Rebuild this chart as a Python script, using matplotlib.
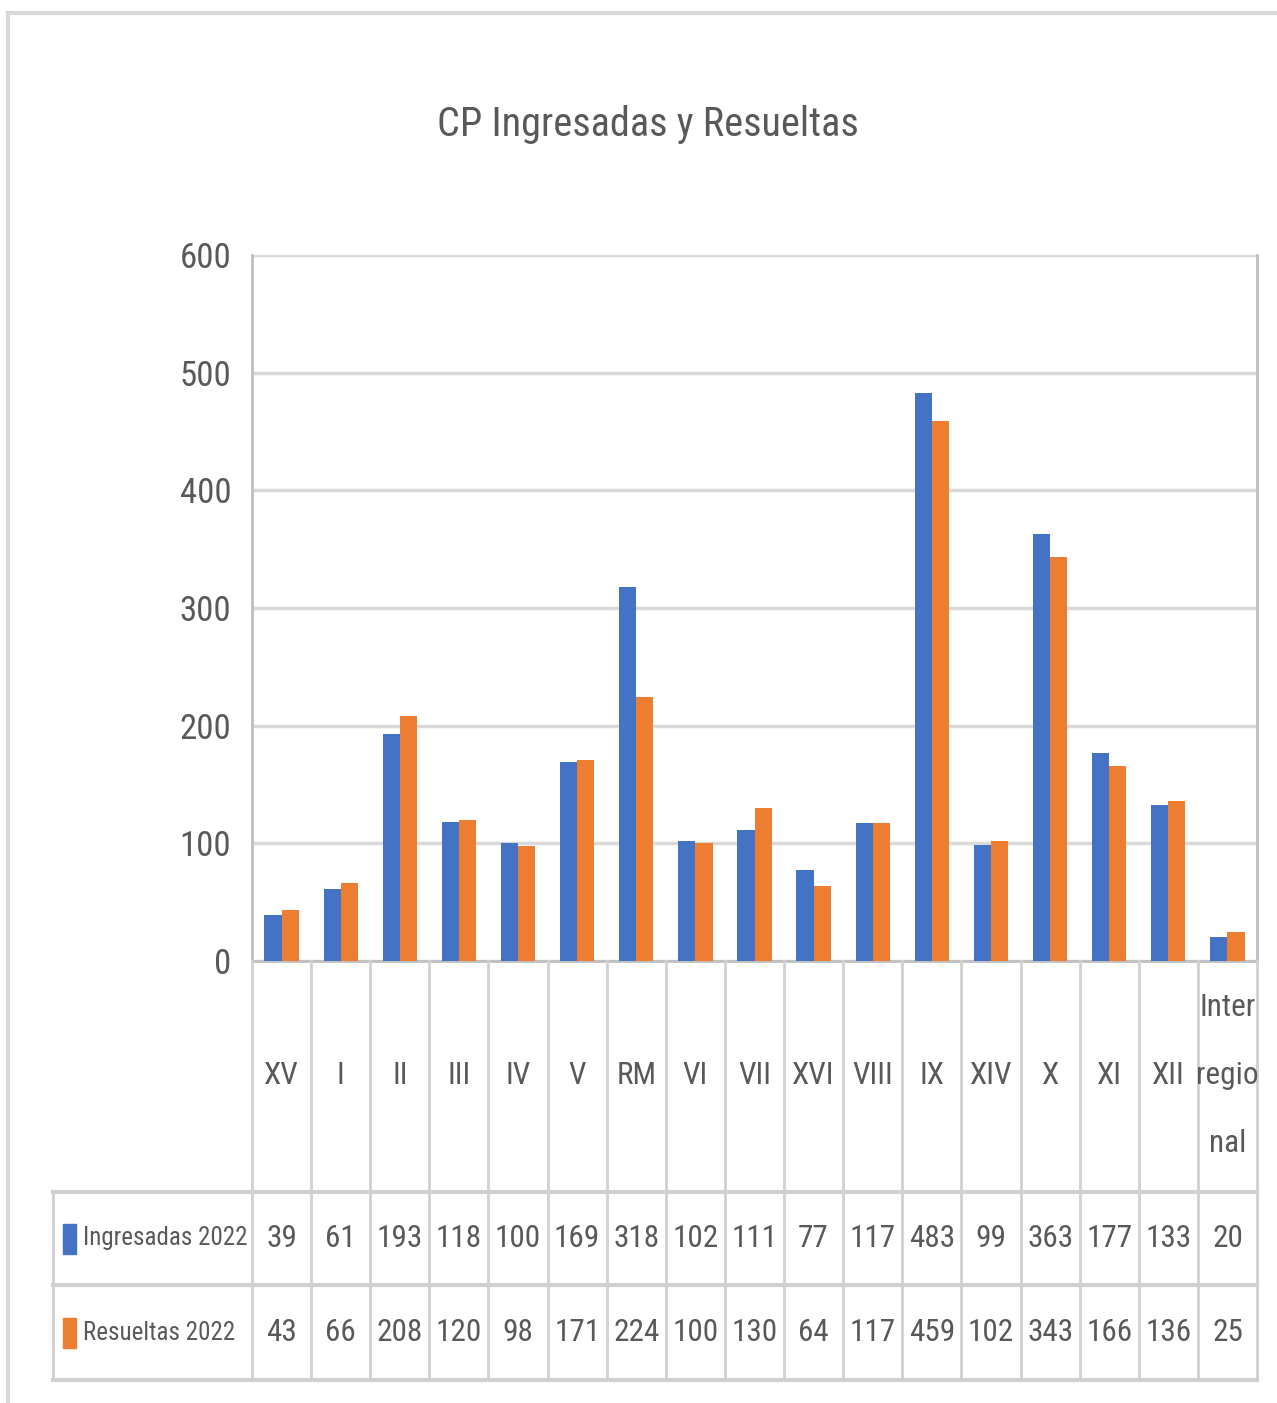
import matplotlib
matplotlib.use("Agg")
import matplotlib.pyplot as plt
import numpy as np

plt.rcParams['font.family'] = ['Roboto Condensed', 'Liberation Sans Narrow', 'Roboto', 'DejaVu Sans']

# datos
regiones = ["XV", "I", "II", "III", "IV", "V", "RM", "VI", "VII", "XVI",
            "VIII", "IX", "XIV", "X", "XI", "XII", "Inter\nregio\nnal"]
ingresadas = [39, 61, 193, 118, 100, 169, 318, 102, 111, 77, 117, 483, 99, 363, 177, 133, 20]
resueltas = [43, 66, 208, 120, 98, 171, 224, 100, 130, 64, 117, 459, 102, 343, 166, 136, 25]
series = ["Ingresadas 2022", "Resueltas 2022"]
colores = ["#4472C4", "#ED7D31"]

W, H = 1277, 1403
texto = "#595959"
linea = "#D9D9D9"

fig = plt.figure(figsize=(W / 100, H / 100), dpi=100)

def caja(x0, y0, x1, y1):
    # pixeles -> fraccion de figura
    return [x0 / W, 1 - y1 / H, (x1 - x0) / W, (y1 - y0) / H]

# borde exterior del grafico
fig.add_artist(plt.Line2D([8 / W, 8 / W], [0, 1 - 13 / H], color=linea, lw=3))
fig.add_artist(plt.Line2D([8 / W, 1], [1 - 13 / H, 1 - 13 / H], color=linea, lw=3))

fig.text(648 / W, 1 - 125 / H, "CP Ingresadas y Resueltas", ha="center", va="center",
         fontsize=29, color=texto)

n = len(regiones)
x = np.arange(n)
ancho = 0.29

ax = fig.add_axes(caja(252, 255, 1257, 961))
ax.bar(x - ancho / 2, ingresadas, ancho, color=colores[0], zorder=3)
ax.bar(x + ancho / 2, resueltas, ancho, color=colores[1], zorder=3)
ax.set_xlim(-0.5, n - 0.5)
ax.set_ylim(0, 600)
ax.set_yticks(range(0, 601, 100))
ax.yaxis.grid(True, color=linea, lw=2.5, zorder=0)
ax.set_xticks([])
ax.tick_params(axis="y", length=0, pad=15, labelsize=25, labelcolor=texto)
for s in ["left", "right", "bottom"]:
    ax.spines[s].set_color("#BFBFBF")
    ax.spines[s].set_linewidth(2)
ax.spines["top"].set_visible(False)

# tabla de datos
tb = fig.add_axes(caja(53, 961, 1257, 1385))
izq = -0.5 - (252 - 53) / ((1257 - 252) / n)
tb.set_xlim(izq, n - 0.5)
tb.set_ylim(1385 - 961, 0)
tb.axis("off")
gris = "#D0D0D0"
y_cab, y_f1, y_f2 = 1192 - 961, 1285 - 961, 1380 - 961

for k in range(n + 1):
    tb.plot([k - 0.5, k - 0.5], [0, y_f2], color=gris, lw=2, clip_on=False)
tb.plot([izq, izq], [y_cab, y_f2], color=gris, lw=2, clip_on=False)
for yy in [y_cab, y_f1, y_f2]:
    tb.plot([izq, n - 0.5], [yy, yy], color=gris, lw=3, clip_on=False)

for k, nombre in enumerate(regiones):
    tb.text(k, y_cab / 2 - 1, nombre, ha="center", va="center", fontsize=22.5,
            color=texto, linespacing=2.7)

filas = [ingresadas, resueltas]
centros = [(y_cab + y_f1) / 2, (y_f1 + y_f2) / 2]
for fila, cy, nom, col in zip(filas, centros, series, colores):
    for k, v in enumerate(fila):
        tb.text(k, cy, str(v), ha="center", va="center", fontsize=22.5, color=texto)
    tb.add_patch(plt.Rectangle((izq + 0.17, cy - 15), 0.22, 30, color=col, clip_on=False))
    tb.text(izq + 0.5, cy, nom, ha="left", va="center", fontsize=18, color=texto)

fig.savefig("out.png", dpi=100, facecolor="white")
